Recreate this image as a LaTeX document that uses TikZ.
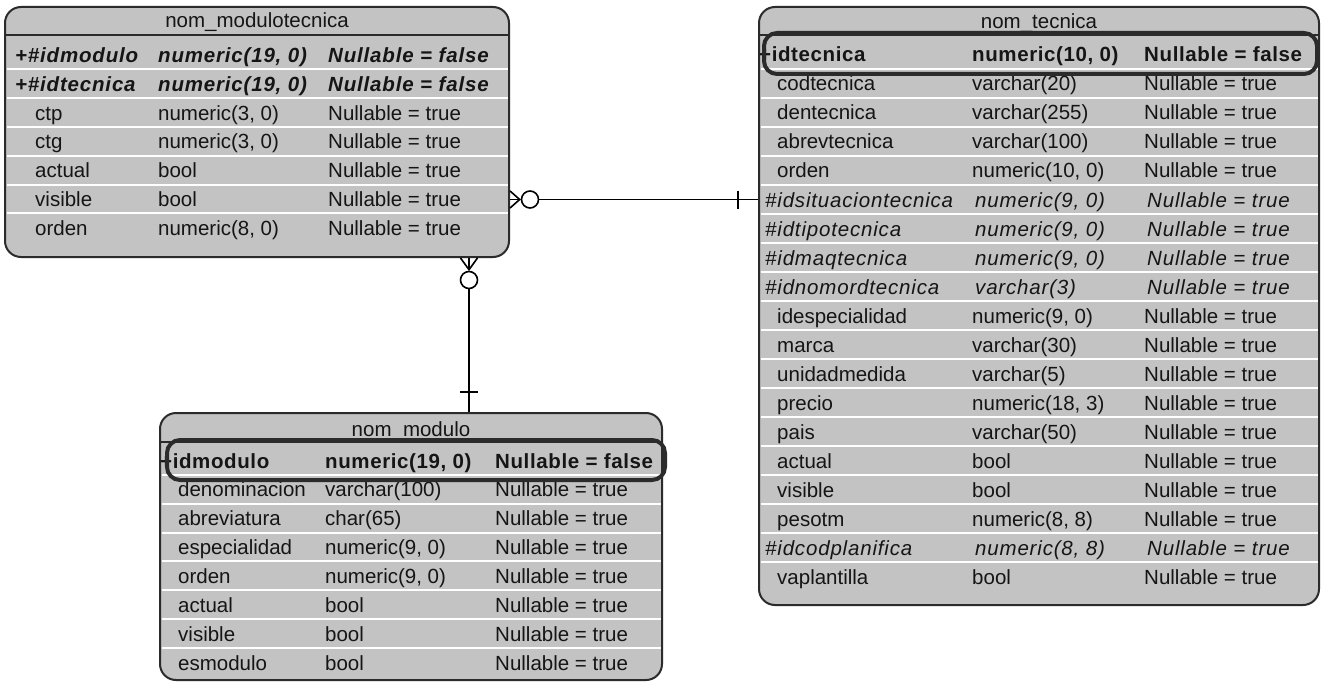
\documentclass[tikz,border=0pt]{standalone}
\usepackage{fontspec}
\setmainfont{Liberation Sans}
\newfontfamily\fieldit{Liberation Sans}[LetterSpace=4]
\newfontfamily\fieldbf{Liberation Sans}[LetterSpace=3]
\usetikzlibrary{calc}

\definecolor{tblfill}{HTML}{C3C3C3}
\definecolor{tblline}{HTML}{2B2B2B}
\definecolor{txt}{HTML}{151515}

\newcommand{\cellsize}{\fontsize{20.5}{24}\selectfont}

% one field row: #1 row name, #2 row centre y, #3 x of the name, #4 name style,
% #5 style of type and nullability, #6 name, #7 type, #8 nullability
\newcommand{\fieldrow}[8]{%
  \coordinate (#1) at (0,#2);
  \node[#4] (#1-n) at (#3,#2+7) {#6};
  \node[#5] (#1-t) at (\typex,#2+7) {#7};
  \node[#5] (#1-v) at (\nullx,#2+7) {#8};
}

\tikzset{
  tbl/.style={rectangle, rounded corners=16pt, draw=tblline, line width=2pt,
    fill=tblfill, inner sep=0pt},
  pkbox/.style={rectangle, rounded corners=13pt, draw=tblline, line width=4pt,
    inner sep=0pt},
  ttl/.style={font=\cellsize, text=txt, inner sep=0pt, anchor=base},
  cell/.style={font=\cellsize, text=txt, inner sep=0pt, anchor=base west},
  cellit/.style={cell, font=\cellsize\fieldit\itshape},
  cellitcol/.style={cellit, xshift=3pt},
  cellbf/.style={cell, font=\cellsize\fieldbf\bfseries},
  cellbi/.style={cell, font=\cellsize\fieldit\bfseries\itshape},
  rowsep/.style={draw=white, line width=2pt},
  titlesep/.style={draw=tblline, line width=2pt},
  conn/.style={draw=black, line width=1.6pt},
  zero/.style={circle, draw=black, line width=1.6pt, fill=white, inner sep=0pt,
    minimum size=17pt},
}

\begin{document}
\begin{tikzpicture}[x=1pt, y=-1pt]
\useasboundingbox (0,0) rectangle (1325,682);
\fill[white] (0,0) rectangle (1325,682);

% ---------- nom_modulotecnica ----------
\node[tbl, minimum width=504pt, minimum height=250pt] (mt) at (257,132) {};
\draw[titlesep] (5,35) -- (509,35);
\foreach \k in {1,...,6}
  \draw[rowsep] (6.5,{55.5+28.8*\k-14.9}) -- (507.5,{55.5+28.8*\k-14.9});
\node[ttl] (mt-title) at (257,27.5) {nom\_modulotecnica};
\def\typex{158}\def\nullx{328}
\fieldrow{mt0}{55.5}{15}{cellbi}{cellbi}{+\#idmodulo}{numeric(19, 0)}{Nullable = false}
\fieldrow{mt1}{84.3}{15}{cellbi}{cellbi}{+\#idtecnica}{numeric(19, 0)}{Nullable = false}
\fieldrow{mt2}{113.1}{35}{cell}{cell}{ctp}{numeric(3, 0)}{Nullable = true}
\fieldrow{mt3}{141.9}{35}{cell}{cell}{ctg}{numeric(3, 0)}{Nullable = true}
\fieldrow{mt4}{170.7}{35}{cell}{cell}{actual}{bool}{Nullable = true}
\fieldrow{mt5}{199.5}{35}{cell}{cell}{visible}{bool}{Nullable = true}
\fieldrow{mt6}{228.3}{35}{cell}{cell}{orden}{numeric(8, 0)}{Nullable = true}

% ---------- nom_tecnica ----------
\node[tbl, minimum width=560pt, minimum height=598pt] (tec) at (1039,306) {};
\draw[titlesep] (759,35) -- (1319,35);
\foreach \k in {1,...,18}
  \draw[rowsep] (760.5,{55+29*\k-15}) -- (1317.5,{55+29*\k-15});
\node[ttl] (tec-title) at (1039,29) {nom\_tecnica};
\def\typex{972}\def\nullx{1144}
\fieldrow{tec0}{55}{759}{cellbf}{cellbf}{+idtecnica}{numeric(10, 0)}{Nullable = false}
\fieldrow{tec1}{84}{777}{cell}{cell}{codtecnica}{varchar(20)}{Nullable = true}
\fieldrow{tec2}{113}{777}{cell}{cell}{dentecnica}{varchar(255)}{Nullable = true}
\fieldrow{tec3}{142}{777}{cell}{cell}{abrevtecnica}{varchar(100)}{Nullable = true}
\fieldrow{tec4}{171}{777}{cell}{cell}{orden}{numeric(10, 0)}{Nullable = true}
\fieldrow{tec5}{200}{765}{cellit}{cellitcol}{\#idsituaciontecnica}{numeric(9, 0)}{Nullable = true}
\fieldrow{tec6}{229}{765}{cellit}{cellitcol}{\#idtipotecnica}{numeric(9, 0)}{Nullable = true}
\fieldrow{tec7}{258}{765}{cellit}{cellitcol}{\#idmaqtecnica}{numeric(9, 0)}{Nullable = true}
\fieldrow{tec8}{287}{765}{cellit}{cellitcol}{\#idnomordtecnica}{varchar(3)}{Nullable = true}
\fieldrow{tec9}{316}{777}{cell}{cell}{idespecialidad}{numeric(9, 0)}{Nullable = true}
\fieldrow{tec10}{345}{777}{cell}{cell}{marca}{varchar(30)}{Nullable = true}
\fieldrow{tec11}{374}{777}{cell}{cell}{unidadmedida}{varchar(5)}{Nullable = true}
\fieldrow{tec12}{403}{777}{cell}{cell}{precio}{numeric(18, 3)}{Nullable = true}
\fieldrow{tec13}{432}{777}{cell}{cell}{pais}{varchar(50)}{Nullable = true}
\fieldrow{tec14}{461}{777}{cell}{cell}{actual}{bool}{Nullable = true}
\fieldrow{tec15}{490}{777}{cell}{cell}{visible}{bool}{Nullable = true}
\fieldrow{tec16}{519}{777}{cell}{cell}{pesotm}{numeric(8, 8)}{Nullable = true}
\fieldrow{tec17}{548}{765}{cellit}{cellitcol}{\#idcodplanifica}{numeric(8, 8)}{Nullable = true}
\fieldrow{tec18}{577}{777}{cell}{cell}{vaplantilla}{bool}{Nullable = true}
\node[pkbox, minimum width=553pt, minimum height=41pt] (tec-pk) at (1040.5,53.5) {};

% ---------- nom_modulo ----------
\node[tbl, minimum width=502pt, minimum height=267pt] (mod) at (411,546.5) {};
\draw[titlesep] (160,442) -- (662,442);
\foreach \k in {1,...,7}
  \draw[rowsep] (161.5,{461+28.86*\k-15}) -- (660.5,{461+28.86*\k-15});
\node[ttl] (mod-title) at (411,436) {nom\_modulo};
\def\typex{325}\def\nullx{495}
\fieldrow{mod0}{461}{160}{cellbf}{cellbf}{+idmodulo}{numeric(19, 0)}{Nullable = false}
\fieldrow{mod1}{489.9}{178}{cell}{cell}{denominacion}{varchar(100)}{Nullable = true}
\fieldrow{mod2}{518.7}{178}{cell}{cell}{abreviatura}{char(65)}{Nullable = true}
\fieldrow{mod3}{547.6}{178}{cell}{cell}{especialidad}{numeric(9, 0)}{Nullable = true}
\fieldrow{mod4}{576.4}{178}{cell}{cell}{orden}{numeric(9, 0)}{Nullable = true}
\fieldrow{mod5}{605.3}{178}{cell}{cell}{actual}{bool}{Nullable = true}
\fieldrow{mod6}{634.2}{178}{cell}{cell}{visible}{bool}{Nullable = true}
\fieldrow{mod7}{663}{178}{cell}{cell}{esmodulo}{bool}{Nullable = true}
\node[pkbox, minimum width=498pt, minimum height=40pt] (mod-pk) at (416,460) {};

% ---------- relation nom_modulotecnica >o---| nom_tecnica ----------
\coordinate (a1) at (mt.east |- mt5);
\node[zero] (o1) at ($(a1)+(20,0)$) {};
\coordinate (f1) at ($(o1.west)+(-1,0)$);
\draw[conn] ($(a1)+(0,-8.5)$) -- (f1) -- ($(a1)+(0,8.5)$);
\draw[conn] (a1) -- (f1);
\coordinate (e1) at (o1.east -| tec.west);
\draw[conn] (o1.east) -- (e1);
\draw[conn] ($(e1)+(-20,-9)$) -- ++(0,18);

% ---------- relation nom_modulotecnica >o---| nom_modulo ----------
\coordinate (jx) at (469,0);
\coordinate (b2) at (mt.south -| jx);
\node[zero] (o2) at ($(b2)+(0,22)$) {};
\coordinate (f2) at ($(o2.north)+(0,-1)$);
\draw[conn] ($(b2)+(-8.5,0)$) -- (f2) -- ($(b2)+(8.5,0)$);
\draw[conn] (b2) -- (f2);
\coordinate (e2) at (o2.south |- mod.north);
\draw[conn] (o2.south) -- (e2);
\draw[conn] ($(e2)+(-9,-20)$) -- ++(18,0);
\end{tikzpicture}
\end{document}
